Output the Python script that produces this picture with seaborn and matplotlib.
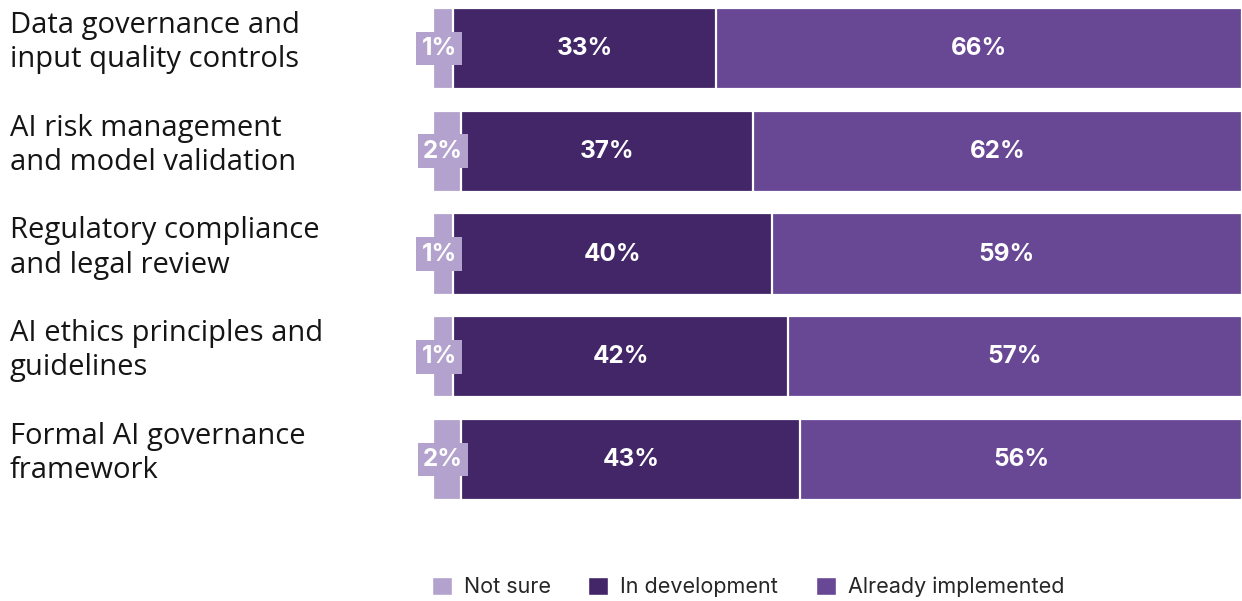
import numpy as np
import pandas as pd
import seaborn as sns
import matplotlib
matplotlib.use("Agg")
import matplotlib.pyplot as plt
from matplotlib.patches import Patch
from matplotlib import transforms

categories = ["Data governance and\ninput quality controls",
              "AI risk management\nand model validation",
              "Regulatory compliance\nand legal review",
              "AI ethics principles and\nguidelines",
              "Formal AI governance\nframework"]
not_sure = [1, 2, 1, 1, 2]
in_development = [33, 37, 40, 42, 43]
already_implemented = [66, 62, 59, 57, 56]
series_names = ["Not sure", "In development", "Already implemented"]

C_NS = "#b3a2cd"
C_DEV = "#422668"
C_IMP = "#684795"

sns.set_theme(style="white")
plt.rcParams["font.family"] = ["Inter", "DejaVu Sans"]

ns = np.array(not_sure, float)
dev = np.array(in_development, float)
imp = np.array(already_implemented, float)
# small segments get a little extra room so their labels fit; rest scaled to fill
ns_disp = ns + 1.5
scale = (100 - ns_disp) / (dev + imp)
dev_disp = dev * scale
imp_disp = imp * scale

df = pd.DataFrame({"cat": categories,
                   "c1": ns_disp,
                   "c2": ns_disp + dev_disp,
                   "c3": ns_disp + dev_disp + imp_disp})

fig = plt.figure(figsize=(12.42, 6.01), dpi=100)
ax = fig.add_axes([433/1242, 1 - 500/601, 809/1242, 492/601])

kw = dict(orient="h", width=0.79, edgecolor="white", linewidth=1.6, ax=ax)
sns.barplot(data=df, y="cat", x="c3", color=C_IMP, saturation=1, **kw)
sns.barplot(data=df, y="cat", x="c2", color=C_DEV, saturation=1, **kw)
sns.barplot(data=df, y="cat", x="c1", color=C_NS, saturation=1, **kw)

ax.set_xlim(0, 100)
ax.set_ylim(4 + 0.395, -0.395)
ax.set_xlabel("")
ax.set_ylabel("")
ax.set_xticks([])
ax.set_yticks([])
for s in ax.spines.values():
    s.set_visible(False)

lab_kw = dict(color="white", fontsize=17.5, fontweight="bold", ha="center", va="center")
for i in range(len(categories)):
    ax.text(ns_disp[i] / 2 - 0.5, i, f"{int(ns[i])}%", clip_on=False,
            bbox=dict(boxstyle="square,pad=0.22", fc=C_NS, ec="none"), **lab_kw)
    ax.text(ns_disp[i] + dev_disp[i] / 2, i, f"{int(dev[i])}%", **lab_kw)
    ax.text(ns_disp[i] + dev_disp[i] + imp_disp[i] / 2, i, f"{int(imp[i])}%", **lab_kw)

trans = transforms.blended_transform_factory(fig.transFigure, ax.transData)
trans = transforms.offset_copy(trans, fig=fig, x=0, y=6, units="dots")
for i, c in enumerate(categories):
    ax.text(10 / 1242, i, c, transform=trans, ha="left", va="center",
            fontsize=21, color="#151515", linespacing=1.23, clip_on=False,
            family=["Open Sans", "DejaVu Sans"])

handles = [Patch(facecolor=C_NS), Patch(facecolor=C_DEV), Patch(facecolor=C_IMP)]
fig.legend(handles, series_names, loc="center", bbox_to_anchor=(748 / 1242, 1 - 587 / 601),
           ncol=3, frameon=False, fontsize=15.5, handlelength=0.93, handleheight=0.93,
           handletextpad=0.55, columnspacing=1.75, borderpad=0)

fig.savefig("out.png", dpi=100)
